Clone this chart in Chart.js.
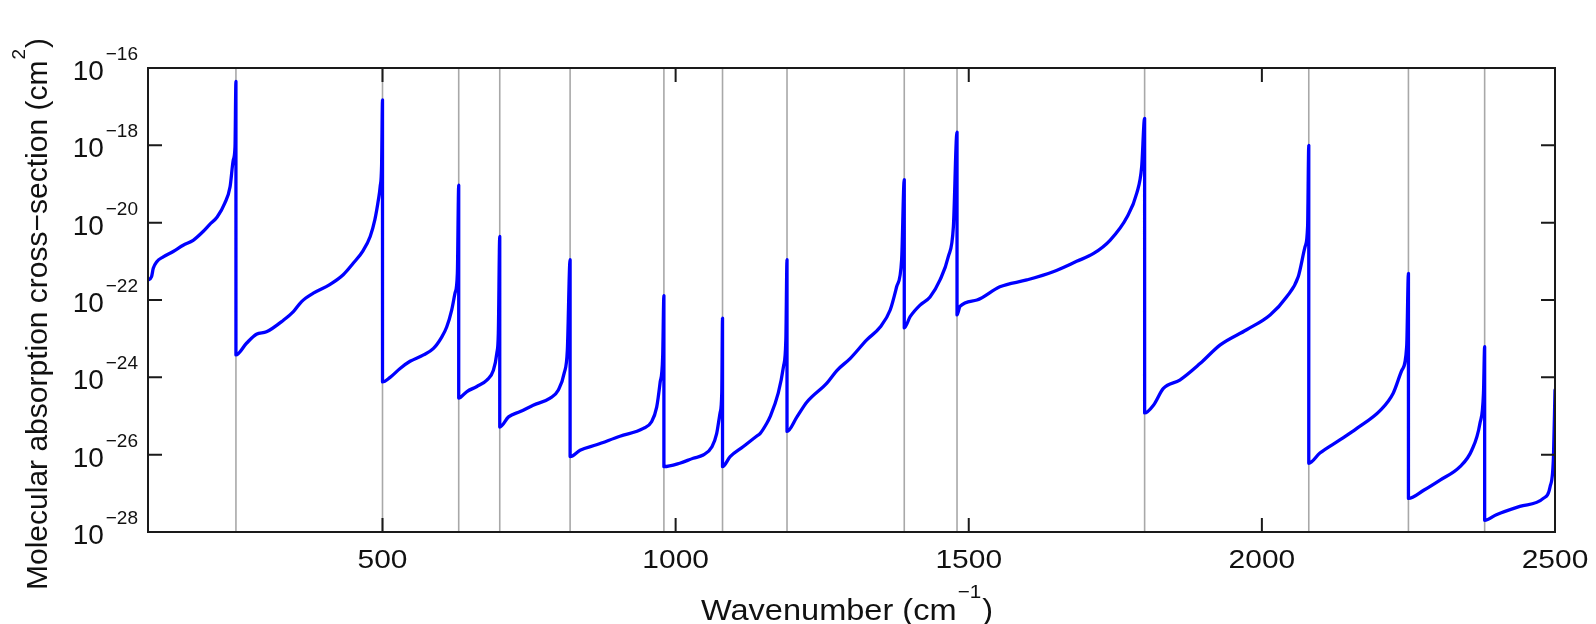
<!DOCTYPE html>
<html>
<head>
<meta charset="utf-8">
<script src="https://cdn.jsdelivr.net/npm/chart.js@4"></script>
<style>
  body { margin: 0; background: #fff; }
  canvas { display: block; }
</style>
</head>
<body>
<canvas id="myChart" width="1596" height="624"></canvas>
<script>
// positions of the absorption lines (gray markers)
const lineCenters = [250, 500, 630, 700, 820, 980, 1080, 1190, 1390, 1480, 1800, 2080, 2250, 2380];

// wavenumber (cm^-1), one row per line-to-line stretch
const wavenumber = [
  100, 106, 109, 115, 126, 143, 160, 177, 194, 205, 218, 231, 240, 245.5, 248.4, 250,
  250, 268, 285, 302, 331, 348, 362, 382, 410, 433, 450, 467, 479, 487, 493, 496, 498.5, 500,
  500, 513, 530, 547, 570, 587, 601, 609.5, 618, 623.7, 627.7, 630,
  630, 644, 661, 678, 689, 695, 697.6, 700,
  700, 715, 735, 757, 786, 800, 810, 815.3, 820,
  820, 837, 865, 905, 945, 959, 967.7, 973.4, 977.9, 980,
  980, 1007, 1030, 1047, 1062, 1070, 1075.8, 1078.7, 1080,
  1080, 1093, 1115, 1138, 1144, 1155, 1161, 1175, 1184, 1188, 1190,
  1190, 1207, 1224, 1258, 1275, 1298, 1326, 1349, 1366, 1377, 1385.5, 1390,
  1390, 1400, 1417, 1434, 1451, 1465, 1473.8, 1480,
  1480, 1485, 1514, 1553, 1599, 1644, 1684, 1713, 1741, 1770, 1786.6, 1795, 1800,
  1800, 1815, 1832, 1860, 1895, 1929, 1974, 2014, 2042, 2062, 2073.7, 2078, 2080,
  2080, 2099, 2133, 2162, 2202, 2224, 2238.6, 2247, 2250,
  2250, 2276, 2304, 2338, 2358, 2372, 2378, 2380,
  2380, 2400, 2440, 2480, 2491.7, 2497.4, 2500
];

// molecular absorption cross-section (cm^2)
const crossSection = [
  3.3e-22, 4.0e-22, 6.6e-22, 9.8e-22, 1.3e-21, 1.8e-21, 2.6e-21, 3.5e-21, 5.9e-21, 8.9e-21, 1.4e-20, 3.2e-20, 8.5e-20, 4.2e-19, 9.1e-19, 4.5e-17,
  3.8e-24, 7.6e-24, 1.3e-23, 1.5e-23, 3.0e-23, 5.0e-23, 9.1e-23, 1.5e-22, 2.5e-22, 4.5e-22, 8.9e-22, 1.9e-21, 4.4e-21, 1.2e-20, 3.9e-20, 8.5e-20, 3.2e-19, 1.5e-17,
  7.6e-25, 1.0e-24, 1.7e-24, 2.6e-24, 3.8e-24, 5.6e-24, 1.1e-23, 2.0e-23, 5.5e-23, 1.5e-22, 4.9e-22, 9.3e-20,
  2.9e-25, 4.3e-25, 5.8e-25, 8.5e-25, 1.5e-24, 4.2e-24, 1.4e-23, 4.4e-21,
  5.2e-26, 9.5e-26, 1.3e-25, 1.9e-25, 2.9e-25, 4.7e-25, 1.3e-24, 5.1e-24, 1.1e-21,
  8.9e-27, 1.3e-26, 1.8e-26, 3.0e-26, 4.8e-26, 7.1e-26, 1.7e-25, 7.1e-25, 3.4e-24, 1.3e-22,
  4.9e-27, 6.0e-27, 8.1e-27, 9.8e-27, 1.6e-26, 3.5e-26, 1.2e-25, 3.9e-25, 3.4e-23,
  4.9e-27, 8.9e-27, 1.6e-26, 3.0e-26, 3.5e-26, 6.3e-26, 9.5e-26, 3.9e-25, 1.9e-24, 9.3e-24, 1.1e-21,
  4.0e-26, 9.5e-26, 2.3e-25, 7.1e-25, 1.5e-24, 3.1e-24, 9.3e-24, 2.0e-23, 5.5e-23, 2.2e-22, 1.1e-21, 1.3e-19,
  1.9e-23, 3.7e-23, 7.4e-23, 1.2e-22, 3.3e-22, 1.3e-21, 7.9e-21, 2.2e-18,
  4.1e-23, 6.8e-23, 1.0e-22, 2.2e-22, 3.3e-22, 5.4e-22, 1.0e-21, 1.6e-21, 3.5e-21, 1.4e-20, 5.8e-20, 2.8e-19, 5.0e-18,
  1.2e-25, 1.9e-25, 5.2e-25, 8.5e-25, 2.3e-24, 6.9e-24, 1.7e-23, 4.1e-23, 1.2e-22, 4.0e-22, 2.4e-21, 7.9e-21, 1.0e-18,
  6.0e-27, 1.1e-26, 2.4e-26, 4.8e-26, 1.4e-25, 3.9e-25, 1.5e-24, 6.2e-24, 4.9e-22,
  7.4e-28, 1.2e-27, 2.2e-27, 4.9e-27, 1.3e-26, 6.5e-26, 3.9e-25, 6.2e-24,
  2.0e-28, 2.8e-28, 4.6e-28, 7.4e-28, 1.5e-27, 8.9e-27, 4.7e-25
];

// axis ticks
const xTicks = [500, 1000, 1500, 2000, 2500];
const yTickPowers = [-16, -18, -20, -22, -24, -26, -28];

const xMin = 100, xMax = 2500;
const yMin = 1e-28, yMax = 1e-16;

const curve = wavenumber.map((w, i) => ({ x: w, y: crossSection[i] }));

const lineSets = lineCenters.map(c => ({
    data: [{ x: c, y: yMin }, { x: c, y: yMax }],
    borderColor: '#a8a8a8',
    borderWidth: 1.6,
    pointRadius: 0,
    order: 1
}));

// frame, inward ticks and labels with superscripts
const framePlugin = {
    id: 'frame',
    afterDraw(chart) {
        const ctx = chart.ctx;
        const a = chart.chartArea;
        const xs = chart.scales.x, ys = chart.scales.y;
        const tl = 14;
        ctx.save();
        ctx.strokeStyle = '#1a1a1a';
        ctx.lineWidth = 2;
        ctx.strokeRect(a.left, a.top, a.right - a.left, a.bottom - a.top);
        ctx.beginPath();
        xTicks.forEach(v => {
            const px = xs.getPixelForValue(v);
            ctx.moveTo(px, a.bottom); ctx.lineTo(px, a.bottom - tl);
            ctx.moveTo(px, a.top); ctx.lineTo(px, a.top + tl);
        });
        yTickPowers.forEach(p => {
            const py = ys.getPixelForValue(Math.pow(10, p));
            ctx.moveTo(a.left, py); ctx.lineTo(a.left + tl, py);
            ctx.moveTo(a.right, py); ctx.lineTo(a.right - tl, py);
        });
        ctx.stroke();

        ctx.fillStyle = '#111';
        ctx.textBaseline = 'alphabetic';

        // y tick labels: 10 with superscript exponent
        yTickPowers.forEach(p => {
            const py = ys.getPixelForValue(Math.pow(10, p));
            const sup = '\u2212' + Math.abs(p);
            ctx.font = '19px "Liberation Sans", Arial, sans-serif';
            const supW = ctx.measureText(sup).width;
            ctx.textAlign = 'left';
            const right = a.left - 10;
            ctx.fillText(sup, right - supW, py - 8);
            ctx.font = '28px "Liberation Sans", Arial, sans-serif';
            const tenW = ctx.measureText('10').width;
            ctx.fillText('10', right - supW - 2 - tenW, py + 12);
        });

        // x tick labels
        ctx.font = '26px "Liberation Sans", Arial, sans-serif';
        ctx.textAlign = 'center';
        xTicks.forEach(v => {
            const px = xs.getPixelForValue(v);
            ctx.save();
            ctx.translate(px, a.bottom + 36);
            ctx.scale(1.15, 1);
            ctx.fillText(String(v), 0, 0);
            ctx.restore();
        });

        // x axis title
        ctx.textAlign = 'left';
        const big = '30px "Liberation Sans", Arial, sans-serif';
        const small = '19px "Liberation Sans", Arial, sans-serif';
        ctx.font = big;
        const t1 = 'Wavenumber (cm', t3 = ')';
        const w1 = ctx.measureText(t1).width, w3 = ctx.measureText(t3).width;
        ctx.font = small;
        const t2 = '\u22121';
        const w2 = ctx.measureText(t2).width;
        const sx = 1.085;
        const total = (w1 + w2 + w3 + 2) * sx;
        ctx.save();
        ctx.translate(847 - total / 2, 620);
        ctx.scale(sx, 1);
        ctx.font = big;
        ctx.fillText(t1, 0, 0);
        ctx.font = small;
        ctx.fillText(t2, w1 + 1, -22);
        ctx.font = big;
        ctx.fillText(t3, w1 + w2 + 2, 0);
        ctx.restore();

        // y axis title (rotated)
        ctx.save();
        ctx.translate(47, 314);
        ctx.rotate(-Math.PI / 2);
        ctx.font = big;
        const y1 = 'Molecular absorption cross\u2212section (cm', y3 = ')';
        const v1 = ctx.measureText(y1).width, v3 = ctx.measureText(y3).width;
        ctx.font = small;
        const y2 = '2';
        const v2 = ctx.measureText(y2).width;
        const start = -(v1 + v2 + v3 + 2) / 2;
        ctx.font = big;
        ctx.fillText(y1, start, 0);
        ctx.font = small;
        ctx.fillText(y2, start + v1 + 1, -22);
        ctx.font = big;
        ctx.fillText(y3, start + v1 + v2 + 2, 0);
        ctx.restore();

        ctx.restore();
    }
};

const ctx = document.getElementById('myChart').getContext('2d');
const chart = new Chart(ctx, {
    type: 'line',
    data: {
        datasets: [{
            data: curve,
            borderColor: '#0000ff',
            borderWidth: 3.3,
            pointRadius: 0,
            cubicInterpolationMode: 'monotone',
            borderJoinStyle: 'round',
            borderCapStyle: 'round',
            order: 0
        }].concat(lineSets)
    },
    options: {
        responsive: false,
        animation: false,
        devicePixelRatio: 1,
        layout: { padding: { left: 148, top: 68, right: 41, bottom: 92 } },
        plugins: {
            legend: { display: false },
            tooltip: { enabled: false }
        },
        scales: {
            x: { type: 'linear', min: xMin, max: xMax, display: false },
            y: { type: 'logarithmic', min: yMin, max: yMax, display: false }
        }
    },
    plugins: [framePlugin]
});
</script>
</body>
</html>
